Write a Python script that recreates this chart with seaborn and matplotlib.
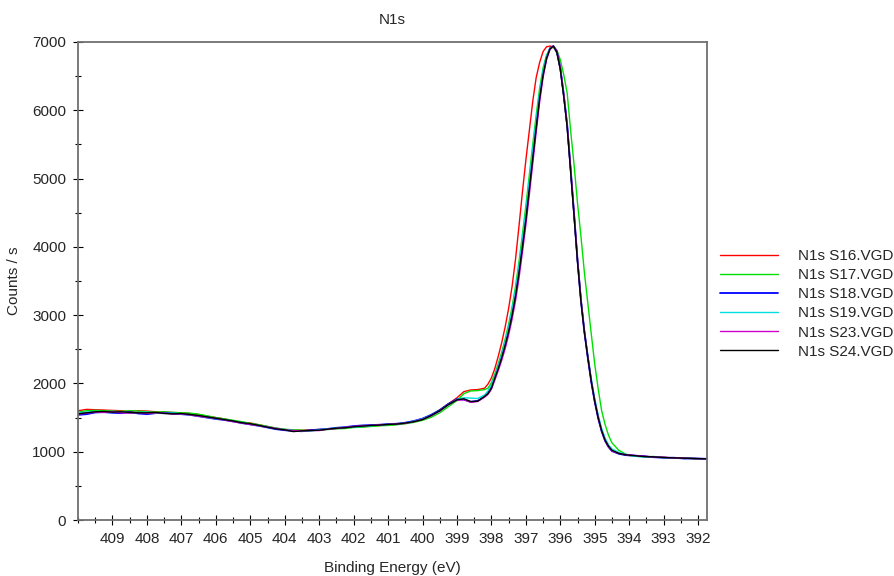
import pandas as pd
import matplotlib
matplotlib.use('Agg')
import matplotlib.pyplot as plt
from matplotlib.ticker import MultipleLocator
import seaborn as sns

# binding energy grid (eV), shared by all scans
energy = [410.0, 409.75, 409.5, 409.25, 409.0, 408.75, 408.5, 408.25, 408.0, 407.75,
          407.5, 407.25, 407.0, 406.75, 406.5, 406.25, 406.0, 405.75, 405.5, 405.25,
          405.0, 404.75, 404.5, 404.25, 404.0, 403.75, 403.5, 403.25, 403.0, 402.75,
          402.5, 402.25, 402.0, 401.75, 401.5, 401.25, 401.0, 400.75, 400.5, 400.25,
          400.0, 399.75, 399.5, 399.25,
          399.0, 398.8, 398.6, 398.4, 398.2,
          398.1, 398.0, 397.9, 397.8, 397.7, 397.6, 397.5, 397.4, 397.3, 397.2,
          397.1, 397.0, 396.9, 396.8, 396.7, 396.6, 396.5, 396.4, 396.3, 396.2,
          396.1, 396.0, 395.9, 395.8, 395.7, 395.6, 395.5, 395.4, 395.3, 395.2,
          395.1, 395.0, 394.9, 394.8, 394.7, 394.6, 394.5,
          394.3, 394.1, 393.9, 393.6, 393.3, 393.0, 392.7, 392.4, 392.1, 391.75]

s16 = [1600, 1620, 1615, 1610, 1605, 1600, 1590, 1600, 1595, 1585,
       1580, 1575, 1570, 1560, 1545, 1520, 1500, 1480, 1455, 1430,
       1420, 1395, 1370, 1345, 1325, 1315, 1315, 1320, 1325, 1330,
       1340, 1355, 1360, 1365, 1375, 1385, 1395, 1400, 1415, 1440,
       1475, 1530, 1610, 1700,
       1790, 1880, 1905, 1910, 1930,
       1990, 2080, 2220, 2400, 2600, 2830, 3100, 3420, 3820, 4300,
       4800, 5270, 5700, 6130, 6480, 6700, 6860, 6930, 6940, 6930,
       6840, 6600, 6210, 5760, 5120, 4460, 3800, 3230, 2760, 2390,
       2040, 1750, 1510, 1320, 1180, 1090, 1030,
       980, 950, 940, 935, 920, 920, 905, 910, 900, 895]

s17 = [1580, 1600, 1605, 1600, 1595, 1590, 1600, 1595, 1585, 1580,
       1585, 1575, 1570, 1565, 1550, 1525, 1500, 1480, 1460, 1440,
       1415, 1395, 1370, 1345, 1330, 1320, 1315, 1310, 1320, 1325,
       1335, 1340, 1355, 1360, 1370, 1380, 1385, 1395, 1410, 1430,
       1460, 1505, 1570, 1660,
       1750, 1850, 1890, 1895, 1910,
       1930, 2010, 2140, 2290, 2460, 2650, 2870, 3120, 3420, 3780,
       4180, 4600, 5050, 5500, 5930, 6320, 6620, 6810, 6890, 6930,
       6880, 6740, 6520, 6250, 5700, 5200, 4640, 4150, 3620, 3170,
       2720, 2280, 1920, 1600, 1400, 1240, 1130,
       1020, 965, 940, 925, 930, 915, 905, 908, 898, 893]

s18 = [1540, 1550, 1575, 1580, 1570, 1565, 1580, 1560, 1550, 1565,
       1570, 1560, 1550, 1540, 1520, 1500, 1480, 1465, 1445, 1420,
       1400, 1380, 1355, 1330, 1315, 1305, 1300, 1315, 1325, 1335,
       1350, 1360, 1375, 1385, 1390, 1395, 1405, 1410, 1425, 1450,
       1485, 1540, 1610, 1700,
       1770, 1765, 1730, 1745, 1805,
       1860, 1945, 2090, 2240, 2400, 2580, 2780, 3020, 3300, 3640,
       4020, 4420, 4870, 5320, 5770, 6200, 6540, 6770, 6910, 6940,
       6860, 6620, 6230, 5780, 5140, 4480, 3800, 3210, 2750, 2370,
       2020, 1730, 1490, 1300, 1160, 1070, 1010,
       970, 950, 945, 935, 920, 912, 912, 900, 902, 896]

s19 = [1570, 1580, 1590, 1585, 1590, 1580, 1570, 1575, 1580, 1565,
       1560, 1565, 1555, 1540, 1525, 1505, 1485, 1470, 1445, 1425,
       1405, 1380, 1365, 1340, 1325, 1310, 1300, 1305, 1320, 1335,
       1345, 1355, 1360, 1370, 1380, 1395, 1400, 1410, 1420, 1445,
       1480, 1530, 1600, 1690,
       1765, 1790, 1785, 1780, 1830,
       1890, 1980, 2110, 2260, 2430, 2620, 2830, 3080, 3370, 3720,
       4110, 4520, 4970, 5420, 5860, 6260, 6580, 6790, 6910, 6935,
       6850, 6610, 6220, 5770, 5130, 4470, 3800, 3230, 2780, 2410,
       2070, 1780, 1540, 1340, 1200, 1100, 1040,
       990, 960, 935, 925, 928, 915, 907, 903, 900, 894]

s23 = [1550, 1565, 1580, 1575, 1585, 1570, 1565, 1575, 1560, 1570,
       1565, 1550, 1555, 1540, 1520, 1505, 1490, 1465, 1440, 1420,
       1400, 1380, 1360, 1340, 1320, 1310, 1305, 1310, 1310, 1330,
       1340, 1355, 1370, 1380, 1385, 1395, 1400, 1410, 1415, 1440,
       1475, 1525, 1595, 1690,
       1755, 1760, 1725, 1735, 1800,
       1840, 1915, 2050, 2190, 2340, 2510, 2710, 2940, 3210, 3540,
       3920, 4320, 4760, 5220, 5680, 6120, 6480, 6740, 6890, 6940,
       6870, 6630, 6240, 5790, 5150, 4490, 3810, 3220, 2760, 2380,
       2030, 1740, 1500, 1300, 1160, 1070, 1010,
       975, 958, 948, 932, 925, 918, 908, 906, 899, 895]

s24 = [1555, 1570, 1585, 1590, 1580, 1585, 1575, 1570, 1570, 1575,
       1560, 1555, 1560, 1545, 1530, 1510, 1490, 1470, 1450, 1425,
       1410, 1385, 1360, 1335, 1320, 1295, 1305, 1310, 1315, 1330,
       1345, 1350, 1365, 1375, 1385, 1390, 1400, 1405, 1420, 1440,
       1470, 1530, 1600, 1690,
       1760, 1775, 1735, 1740, 1810,
       1850, 1930, 2080, 2220, 2380, 2560, 2760, 3000, 3280, 3620,
       4000, 4400, 4850, 5300, 5750, 6180, 6520, 6760, 6900, 6940,
       6850, 6600, 6200, 5750, 5100, 4450, 3780, 3200, 2750, 2380,
       2030, 1740, 1500, 1310, 1170, 1080, 1020,
       975, 955, 945, 930, 925, 915, 910, 905, 900, 895]

labels = ['N1s S16.VGD', 'N1s S17.VGD', 'N1s S18.VGD',
          'N1s S19.VGD', 'N1s S23.VGD', 'N1s S24.VGD']
colors = ['#ff0000', '#00e000', '#0000ff', '#00e0e0', '#cc00cc', '#000000']

frames = []
for lab, vals in zip(labels, [s16, s17, s18, s19, s23, s24]):
    frames.append(pd.DataFrame({'energy': energy, 'counts': vals, 'scan': lab}))
df = pd.concat(frames, ignore_index=True)

sns.set_style('white')
plt.rcParams['font.family'] = ['Liberation Sans', 'DejaVu Sans']

fig = plt.figure(figsize=(8.95, 5.76), dpi=100)
ax = fig.add_axes([0.0872, 0.0972, 0.7028, 0.8299])

sns.lineplot(data=df, x='energy', y='counts', hue='scan', palette=colors,
             estimator=None, sort=False, linewidth=1.0, ax=ax)
for line in ax.get_lines():
    if line.get_color() == '#0000ff':
        line.set_linewidth(1.3)

ax.set_xlim(410, 391.74)
ax.set_ylim(0, 7000)
ax.xaxis.set_major_locator(MultipleLocator(1))
ax.xaxis.set_minor_locator(MultipleLocator(0.5))
ax.yaxis.set_major_locator(MultipleLocator(1000))
ax.yaxis.set_minor_locator(MultipleLocator(500))
ax.set_xticks(range(392, 410))
ax.tick_params(which='both', direction='inout', color='black', width=0.8,
               labelsize=11, bottom=True, left=True)
ax.tick_params(which='major', length=7, pad=5)
ax.tick_params(which='minor', length=4)
for sp in ax.spines.values():
    sp.set_color('#707070')
    sp.set_linewidth(1.3)

ax.set_title('N1s', fontsize=11, pad=13)
ax.set_xlabel('Binding Energy (eV)', fontsize=11, labelpad=11)
ax.set_ylabel('Counts / s', fontsize=11, labelpad=8)

handles, labs = ax.get_legend_handles_labels()
ax.legend(handles, labs, loc='center left', bbox_to_anchor=(1.021, 0.452),
          frameon=False, fontsize=11, handlelength=3.8, handletextpad=1.3,
          labelspacing=0.33, borderpad=0, borderaxespad=0)

fig.savefig('out.png', dpi=100)
